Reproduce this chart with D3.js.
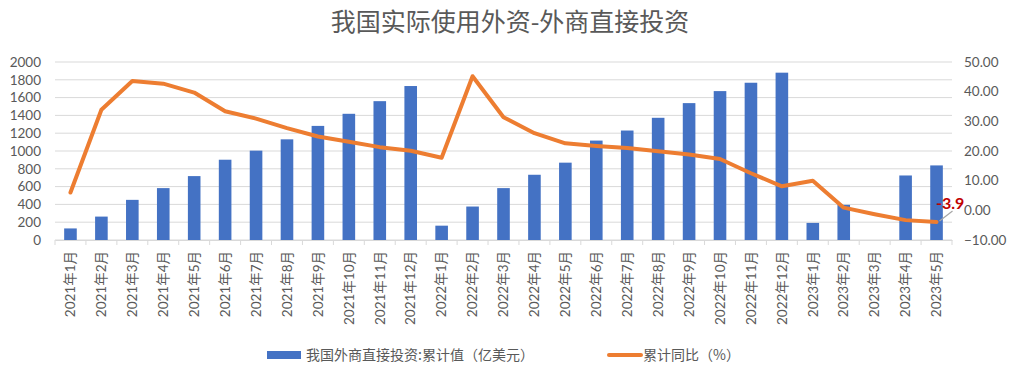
<!DOCTYPE html>
<html><head><meta charset="utf-8">
<script src="https://cdn.jsdelivr.net/npm/d3@7"></script>
<style>
body{margin:0;background:#fff;}
svg text{font-family:Lato,"Noto Sans CJK SC",sans-serif;fill:#595959;}
</style></head>
<body><svg id="c" width="1018" height="375"></svg>
<script>
const categories = ["2021年1月","2021年2月","2021年3月","2021年4月","2021年5月","2021年6月","2021年7月","2021年8月","2021年9月","2021年10月","2021年11月","2021年12月","2022年1月","2022年2月","2022年3月","2022年4月","2022年5月","2022年6月","2022年7月","2022年8月","2022年9月","2022年10月","2022年11月","2022年12月","2023年1月","2023年2月","2023年3月","2023年4月","2023年5月"];
const fdiValues = [130,263,451,583,718,902,1004,1131,1282,1418,1560,1730,161,376,583,733,869,1117,1230,1373,1538,1673,1767,1880,192,395,null,725,838];
const yoyValues = [6.0,33.9,43.6,42.7,39.7,33.4,30.9,27.7,24.9,23.1,21.3,20.1,17.7,45.2,31.4,26.0,22.6,21.7,21.0,19.9,18.8,17.3,12.5,8.1,10.0,0.9,-1.3,-3.3,-3.9];
const leftTicks = [0,200,400,600,800,1000,1200,1400,1600,1800,2000];
const rightTicks = [-10,0,10,20,30,40,50];
const title = "我国实际使用外资-外商直接投资";
const barLegend = "我国外商直接投资:累计值（亿美元）";
const lineLegend = "累计同比（%）";
const lastLabel = "-3.9";

const svg = d3.select("#c");
const L = 55, R = 952, T = 62, B = 240;
const x = d3.scaleBand().domain(categories).range([L, R]).paddingInner(0).paddingOuter(0);
const yL = d3.scaleLinear().domain([0, 2000]).range([B, T]);
const yR = d3.scaleLinear().domain([-10, 50]).range([B, T]);

// title
svg.append("text").attr("x", 510).attr("y", 31).attr("text-anchor", "middle")
  .style("font-size", "25px").style("font-family", "'Noto Sans CJK SC'").text(title);

// gridlines
svg.append("g").selectAll("line").data(leftTicks).join("line")
  .attr("x1", L).attr("x2", R).attr("y1", d => yL(d)).attr("y2", d => yL(d))
  .attr("stroke", "#d9d9d9").attr("stroke-width", 1);

// left axis labels
const gl = svg.append("g").attr("transform", `translate(${L},0)`)
  .call(d3.axisLeft(yL).tickValues(leftTicks).tickSize(0).tickPadding(14).tickFormat(d3.format("d")));
gl.select(".domain").remove();
gl.selectAll("text").style("font-size", "13.5px").attr("fill", "#595959");

// right axis labels
const gr = svg.append("g").attr("transform", `translate(${R},0)`)
  .call(d3.axisRight(yR).tickValues(rightTicks).tickSize(0).tickPadding(12).tickFormat(d3.format(".2f")));
gr.select(".domain").remove();
gr.selectAll("text").style("font-size", "13.5px").attr("fill", "#595959");

// bars
svg.append("g").selectAll("rect").data(categories.map((c,i)=>({c, v: fdiValues[i]})).filter(d => d.v != null))
  .join("rect")
  .attr("x", d => x(d.c) + x.bandwidth()/2 - 6.3)
  .attr("width", 12.6)
  .attr("y", d => yL(d.v))
  .attr("height", d => yL(0) - yL(d.v))
  .attr("fill", "#4472C4");

// x axis
const gx = svg.append("g").attr("transform", `translate(0,${B})`)
  .call(d3.axisBottom(x).tickSize(0).tickPadding(0));
gx.select(".domain").attr("stroke", "#d9d9d9");
gx.selectAll(".tick text").attr("transform", "rotate(-90)").attr("text-anchor", "end")
  .attr("x", -11).attr("y", 0).attr("dy", "0.35em")
  .style("font-size", "13.5px").attr("fill", "#595959");
svg.append("g").selectAll("line").data(d3.range(categories.length + 1)).join("line")
  .attr("x1", i => L + i * x.step()).attr("x2", i => L + i * x.step())
  .attr("y1", B).attr("y2", B + 5).attr("stroke", "#d9d9d9");

// line
const line = d3.line().x((d,i) => x(categories[i]) + x.bandwidth()/2).y(d => yR(d));
svg.append("path").datum(yoyValues).attr("d", line)
  .attr("fill", "none").attr("stroke", "#ED7D31").attr("stroke-width", 4)
  .attr("stroke-linejoin", "round").attr("stroke-linecap", "round");

// last label
const lx = x(categories[categories.length-1]) + x.bandwidth()/2;
const ly = yR(yoyValues[yoyValues.length-1]);
svg.append("line").attr("x1", lx + 3).attr("y1", ly - 1).attr("x2", lx + 16).attr("y2", ly - 11)
  .attr("stroke", "#a6a6a6").attr("stroke-width", 1.2);
svg.append("text").attr("x", lx - 0.5).attr("y", ly - 13).style("font-size", "16px").style("font-weight", "bold")
  .attr("fill", "#C00000").style("fill", "#C00000").text(lastLabel);

// legend
const lg = svg.append("g");
lg.append("rect").attr("x", 267).attr("y", 351).attr("width", 34).attr("height", 8).attr("fill", "#4472C4");
lg.append("text").attr("x", 306).attr("y", 360).style("font-size", "14px").style("font-family", "'Noto Sans CJK SC'").text(barLegend);
lg.append("line").attr("x1", 609).attr("x2", 641).attr("y1", 355).attr("y2", 355)
  .attr("stroke", "#ED7D31").attr("stroke-width", 4).attr("stroke-linecap", "round");
lg.append("text").attr("x", 643).attr("y", 360).style("font-size", "14px").style("font-family", "'Noto Sans CJK SC'").text(lineLegend);
</script></body></html>
